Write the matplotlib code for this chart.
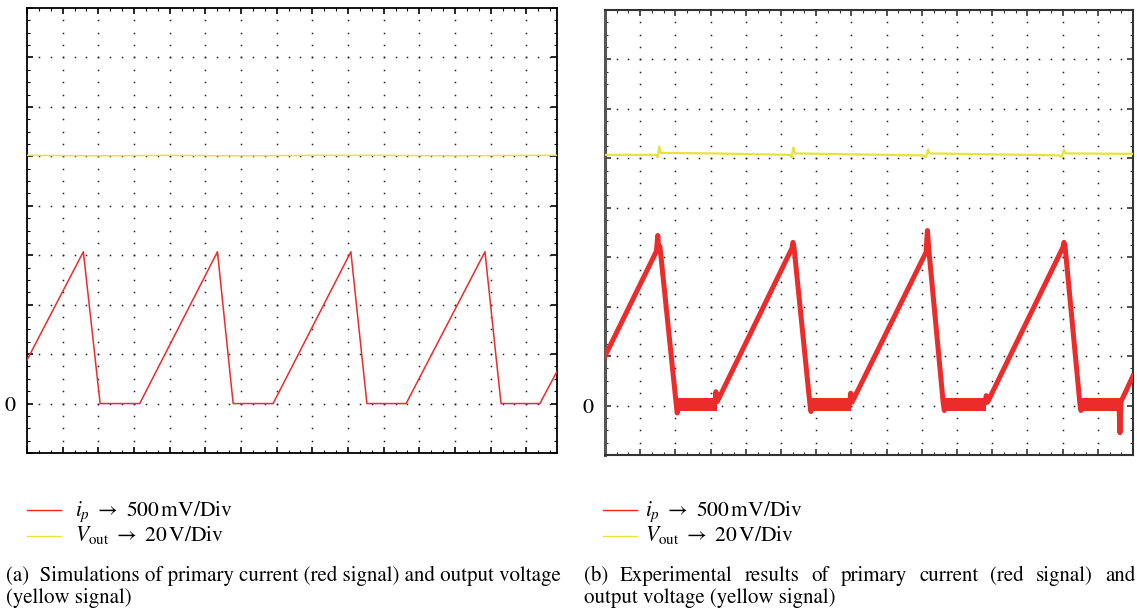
import numpy as np
import matplotlib
matplotlib.use("Agg")
from matplotlib import pyplot as plt
from matplotlib.lines import Line2D
from matplotlib.ticker import MultipleLocator

plt.rcParams['mathtext.fontset'] = 'stix'
plt.rcParams['font.family'] = ['STIXGeneral', 'DejaVu Serif']

W, H = 1137, 614

# all values in scope divisions (x: time div, y: vertical div)
# (a) simulation
sim_t = [0, 1.58, 2.05, 3.16, 5.34, 5.78, 6.90, 9.08, 9.53, 10.63, 12.84, 13.29, 14.38, 14.86]
sim_ip = [0.88, 3.07, 0, 0, 3.07, 0, 0, 3.07, 0, 0, 3.07, 0, 0, 0.65]
sim_vout_t = [0, 2, 4, 6, 8, 10, 12, 14, 14.86]
sim_vout = [5.02, 5.01, 5.02, 5.01, 5.02, 5.02, 5.01, 5.02, 5.02]

# (b) experiment
exp_t = [0, 1.46, 1.50, 1.53, 1.56, 2.02, 2.05, 2.10, 3.12, 3.15, 3.19,
         5.31, 5.34, 5.37, 5.82, 5.85, 5.90, 6.95, 6.98, 7.02,
         9.12, 9.16, 9.20, 9.61, 9.64, 9.68, 10.80, 10.83, 10.87,
         13.01, 13.04, 13.07, 13.49, 13.52, 13.56, 14.60, 14.63, 14.66, 15.0]
exp_ip = [1.0, 3.12, 3.44, 3.15, 3.22, 0.05, -0.15, 0.05, 0.05, 0.28, 0.08,
          3.18, 3.30, 3.20, 0.04, -0.12, 0.05, 0.05, 0.25, 0.07,
          3.10, 3.54, 3.15, 0.04, -0.10, 0.05, 0.05, 0.20, 0.07,
          3.20, 3.30, 3.22, 0.05, -0.10, 0.05, 0.05, -0.55, 0.08, 0.60]
# noisy flat (switch off) intervals of the measured current
exp_flat_start = [2.04, 5.82, 9.61, 13.49]
exp_flat_end = [3.17, 6.99, 10.82, 14.65]
exp_flat_lo, exp_flat_hi = -0.12, 0.15

exp_vout_t = [0, 1.45, 1.50, 1.54, 1.58, 3.0, 5.25, 5.30, 5.35, 5.40, 7.0,
              9.05, 9.12, 9.18, 9.22, 11.0, 12.9, 12.97, 13.04, 13.08, 15.0]
exp_vout = [5.07, 5.07, 5.02, 5.24, 5.11, 5.10, 5.07, 5.02, 5.22, 5.10, 5.08,
            5.06, 5.02, 5.18, 5.10, 5.08, 5.06, 5.03, 5.17, 5.10, 5.09]

RED = '#ec2b2b'
YEL = '#e6e43c'
FS = 15


def px(x, y):
    return x / W, 1 - y / H


def scope_axes(ax, xmax, spine_color, spine_w):
    ax.set_xlim(0, xmax)
    ax.set_ylim(-1, 8)
    xs = np.arange(1, xmax - 0.01, 1)
    ym = np.arange(-0.75, 7.9, 0.25)
    gx, gy = np.meshgrid(xs, ym)
    ax.plot(gx.ravel(), gy.ravel(), ls='none', marker='s', ms=1.1, mew=0, color='#222', zorder=1)
    ys = np.arange(0, 7.5, 1)
    xm = np.arange(1 / 3, xmax - 0.05, 1 / 3)
    gx, gy = np.meshgrid(xm, ys)
    ax.plot(gx.ravel(), gy.ravel(), ls='none', marker='s', ms=1.1, mew=0, color='#222', zorder=1)

    ax.xaxis.set_major_locator(MultipleLocator(1))
    ax.xaxis.set_minor_locator(MultipleLocator(1 / 3))
    ax.yaxis.set_major_locator(MultipleLocator(1))
    ax.yaxis.set_minor_locator(MultipleLocator(0.25))
    ax.tick_params(which='both', direction='in', top=True, right=True,
                   labelbottom=False, color=spine_color)
    ax.tick_params(which='major', length=4.5, width=1.2)
    ax.tick_params(which='minor', length=2, width=0.8)
    ax.tick_params(axis='y', labelsize=16, pad=8)
    yt = np.arange(-1, 9)
    ax.set_yticks(yt)
    ax.set_yticklabels(['0' if v == 0 else '' for v in yt])
    for s in ax.spines.values():
        s.set_color(spine_color)
        s.set_linewidth(spine_w)


fig = plt.figure(figsize=(W / 100, H / 100), dpi=100)

ax1 = fig.add_axes([27 / W, 161 / H, 530 / W, 445 / H])
scope_axes(ax1, 14.86, 'black', 1.3)
ax1.plot(sim_vout_t, sim_vout, color=YEL, lw=1.1, zorder=3)
ax1.plot(sim_t, sim_ip, color=RED, lw=1.1, zorder=3)

ax2 = fig.add_axes([605 / W, 159 / H, 528 / W, 445 / H])
scope_axes(ax2, 15.0, '#333333', 1.5)
ax2.spines['left'].set_color('#555555')
ax2.spines['left'].set_linewidth(2.2)
ax2.plot(exp_vout_t, exp_vout, color=YEL, lw=1.6, zorder=3)
ax2.plot(exp_t, exp_ip, color=RED, lw=3.6, zorder=3)
for a, b in zip(exp_flat_start, exp_flat_end):
    ax2.fill_between([a, b], exp_flat_lo, exp_flat_hi, color=RED, lw=0, zorder=3)

# legends
for x0, tx in [(27, 75), (603, 645)]:
    fig.add_artist(Line2D(*zip(px(x0, 510), px(x0 + 34, 510)), transform=fig.transFigure,
                          color='#ff2020', lw=1.0))
    fig.add_artist(Line2D(*zip(px(x0, 536), px(x0 + 34, 536)), transform=fig.transFigure,
                          color=YEL, lw=1.0))
    fig.text(*px(tx, 516), r"$i_p\ \rightarrow\ 500\,\mathrm{mV/Div}$", fontsize=15.5, va='baseline')
    fig.text(*px(tx, 541), r"$V_{\mathrm{out}}\ \rightarrow\ 20\,\mathrm{V/Div}$", fontsize=15.5, va='baseline')

# captions; the right first line is justified like the printed page
fig.canvas.draw()
renderer = fig.canvas.get_renderer()


def justified(line, x_left, x_right, y):
    words = line.split()
    texts = [fig.text(0, 0, w, fontsize=FS, va='baseline') for w in words]
    widths = [t.get_window_extent(renderer).width for t in texts]
    gap = (x_right - x_left - sum(widths)) / (len(words) - 1)
    x = x_left
    for t, w in zip(texts, widths):
        t.set_position(px(x, y))
        x += w + gap


fig.text(*px(6, 581), "(a)  Simulations of primary current (red signal) and output voltage",
         fontsize=FS, va='baseline')
fig.text(*px(6, 603), "(yellow signal)", fontsize=FS, va='baseline')
justified("(b)  Experimental results of primary current (red signal) and", 584, 1135, 581)
fig.text(*px(584, 603), "output voltage (yellow signal)", fontsize=FS, va='baseline')

fig.savefig('out.png', dpi=100)
